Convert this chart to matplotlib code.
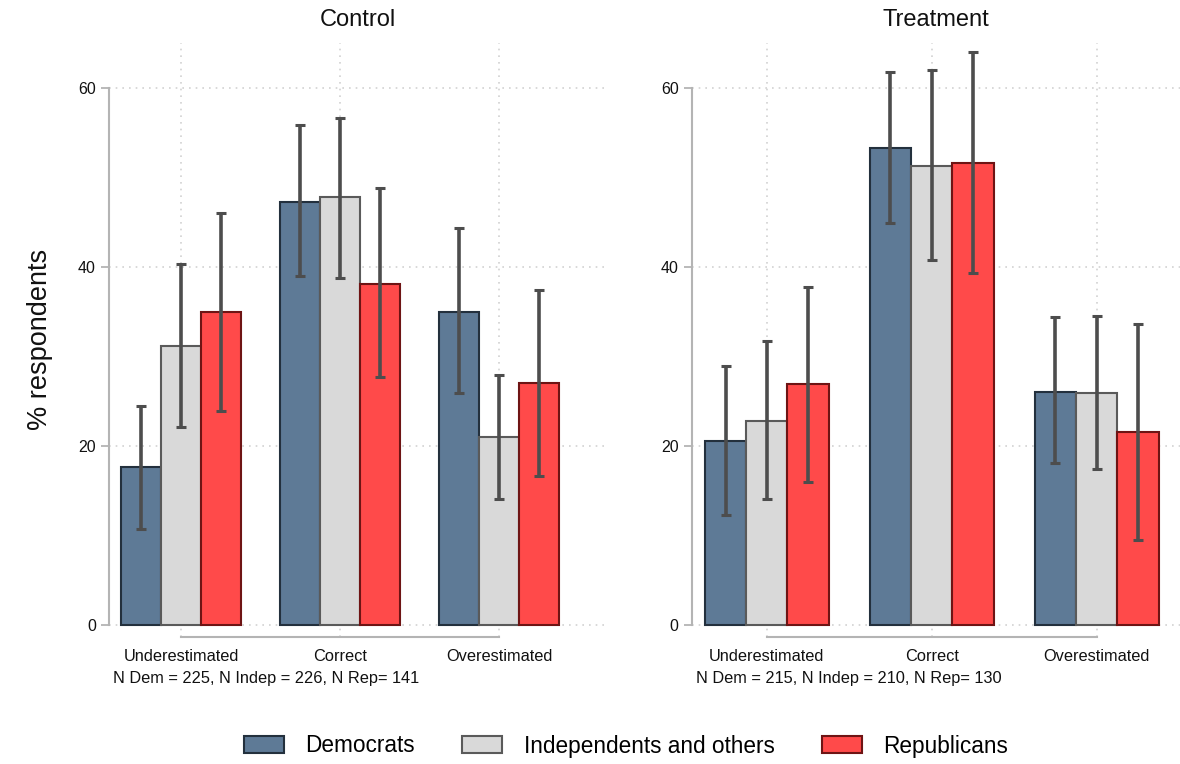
import matplotlib
matplotlib.use("Agg")
import matplotlib.pyplot as plt
import numpy as np
from matplotlib.patches import Patch

plt.rcParams['font.family'] = ['Liberation Sans', 'DejaVu Sans']

categories = ["Underestimated", "Correct", "Overestimated"]
series = ["Democrats", "Independents and others", "Republicans"]
panels = ["Control", "Treatment"]
notes = ["N Dem = 225, N Indep = 226, N Rep= 141",
         "N Dem = 215, N Indep = 210, N Rep= 130"]

# Control panel
control_dem = [17.7, 47.3, 35.0]
control_ind = [31.2, 47.8, 21.0]
control_rep = [35.0, 38.1, 27.0]
control_dem_lo = [10.7, 39.0, 25.9]
control_dem_hi = [24.5, 55.9, 44.4]
control_ind_lo = [22.1, 38.8, 14.1]
control_ind_hi = [40.4, 56.7, 28.0]
control_rep_lo = [23.9, 27.7, 16.6]
control_rep_hi = [46.0, 48.9, 37.5]

# Treatment panel
treat_dem = [20.6, 53.3, 26.1]
treat_ind = [22.8, 51.3, 25.9]
treat_rep = [26.9, 51.6, 21.6]
treat_dem_lo = [12.3, 44.9, 18.1]
treat_dem_hi = [29.0, 61.8, 34.4]
treat_ind_lo = [14.1, 40.8, 17.4]
treat_ind_hi = [31.8, 62.0, 34.5]
treat_rep_lo = [16.0, 39.4, 9.5]
treat_rep_hi = [37.8, 64.0, 33.7]

yticks = [0, 20, 40, 60]

fills = ["#5e7a96", "#d9d9d9", "#ff4a4a"]
edges = ["#23303d", "#5a5a5a", "#6e1414"]
err_color = "#4d4d4d"
grid_color = "#d2d2d2"
axis_color = "#b4b4b4"

W, H = 1180, 764
fig = plt.figure(figsize=(W / 100, H / 100), dpi=100)

def fx(px):
    return px / W

def fy(py):
    return 1 - py / H

top_px, bot_px = 43, 636.7
axes_px = [(109, 607), (691.7, 1180)]
note_px = [113.3, 696]
xlims = [(-0.453, 2.679), (-0.455, 2.505)]
ylim = (-1.31, 65.06)

data = [
    ([control_dem, control_ind, control_rep],
     [control_dem_lo, control_ind_lo, control_rep_lo],
     [control_dem_hi, control_ind_hi, control_rep_hi]),
    ([treat_dem, treat_ind, treat_rep],
     [treat_dem_lo, treat_ind_lo, treat_rep_lo],
     [treat_dem_hi, treat_ind_hi, treat_rep_hi]),
]

width = 0.25
x = np.arange(len(categories))
for p, (title, (vals, los, his)) in enumerate(zip(panels, data)):
    l, r = axes_px[p]
    ax = fig.add_axes([fx(l), fy(bot_px), fx(r) - fx(l), fy(top_px) - fy(bot_px)])
    ax.set_xlim(*xlims[p])
    ax.set_ylim(*ylim)
    ax.set_axisbelow(True)
    for yt in yticks:
        ax.axhline(yt, color=grid_color, lw=1.2, ls=(0, (1, 3)), zorder=0)
    for xc in x:
        ax.axvline(xc, color=grid_color, lw=1.2, ls=(0, (1, 3)), zorder=0)
    for s in range(3):
        pos = x + (s - 1) * width
        ax.bar(pos, vals[s], width=width, color=fills[s], edgecolor=edges[s],
               linewidth=1.5, zorder=2)
        v = np.array(vals[s])
        lo = v - np.array(los[s])
        hi = np.array(his[s]) - v
        ax.errorbar(pos, v, yerr=[lo, hi], fmt='none', ecolor=err_color,
                    elinewidth=2.6, capsize=3.8, capthick=2.2, zorder=3)
    for side in ['top', 'right']:
        ax.spines[side].set_visible(False)
    ax.spines['left'].set_bounds(0, 60)
    ax.spines['left'].set_color(axis_color)
    ax.spines['left'].set_linewidth(1.5)
    ax.spines['bottom'].set_bounds(0, 2)
    ax.spines['bottom'].set_color(axis_color)
    ax.spines['bottom'].set_linewidth(1.5)
    ax.set_yticks(yticks)
    ax.set_yticklabels([str(t) for t in yticks], fontsize=11.5)
    ax.tick_params(axis='y', length=6, width=1.3, color=axis_color, pad=3.5, labelcolor="#111111")
    ax.set_xticks(x)
    ax.set_xticklabels(categories, fontsize=11.8, color="#111111")
    ax.tick_params(axis='x', length=0, pad=9)
    ax.set_title(title, fontsize=17, pad=12, color="#111111")
    fig.text(fx(note_px[p]), fy(678), notes[p], fontsize=11.8, ha='left',
             va='center', color="#111111")
    if p == 0:
        ax.set_ylabel("% respondents", fontsize=19.5, labelpad=18, color="#111111")

handles = [Patch(facecolor=fills[i], edgecolor=edges[i], linewidth=1.5) for i in range(3)]
fig.legend(handles, series, loc='center', bbox_to_anchor=(fx(626), fy(746)), ncol=3,
           frameon=False, fontsize=16.3, handlelength=1.77, handleheight=0.78,
           columnspacing=2.1, handletextpad=0.93)

fig.savefig("out.png", dpi=100, facecolor="white")
